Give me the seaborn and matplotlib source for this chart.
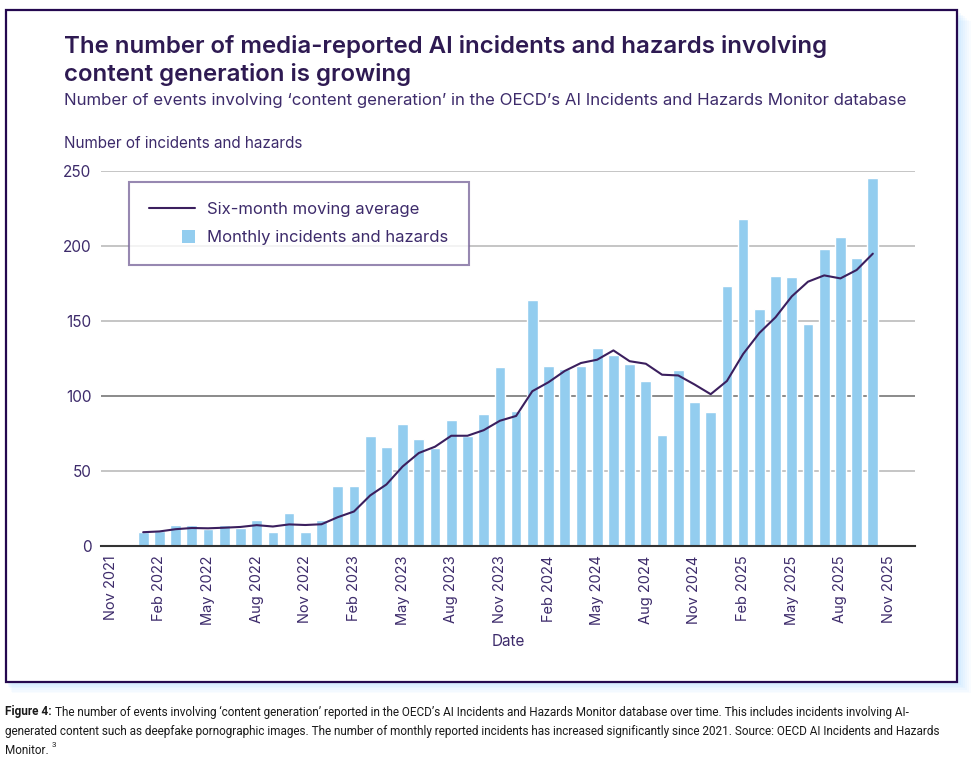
import matplotlib
matplotlib.use("Agg")
import matplotlib.pyplot as plt
import seaborn as sns
import pandas as pd
from matplotlib.patches import Rectangle
from matplotlib.lines import Line2D

# ---- data ----
months = pd.date_range("2022-01-01", "2025-10-01", freq="MS").strftime("%b %Y").tolist()
monthly = [9, 10, 14, 14, 11, 14, 12, 17, 9, 22, 9, 17,
           40, 40, 73, 66, 81, 71, 65, 84, 73, 88, 119, 90,
           164, 120, 118, 120, 132, 127, 121, 110, 74, 117, 96, 89,
           173, 218, 158, 180, 179, 148, 198, 206, 192, 245]
moving_avg = [9.0, 9.5, 11.0, 11.8, 11.6, 12.0, 12.5, 13.7, 12.8, 14.2, 13.8, 14.3,
              19.0, 22.8, 33.5, 40.8, 52.8, 61.8, 66.0, 73.3, 73.3, 77.0, 83.3, 86.5,
              103.0, 109.0, 116.5, 121.8, 124.0, 130.2, 123.0, 121.3, 114.0, 113.5, 107.5, 101.0,
              109.8, 127.8, 141.8, 152.3, 166.2, 176.0, 180.2, 178.2, 183.8, 194.7]
tick_labels = ["Nov 2021", "Feb 2022", "May 2022", "Aug 2022", "Nov 2022", "Feb 2023",
               "May 2023", "Aug 2023", "Nov 2023", "Feb 2024", "May 2024", "Aug 2024",
               "Nov 2024", "Feb 2025", "May 2025", "Aug 2025", "Nov 2025"]
tick_offsets = [-2, 1, 4, 7, 10, 13, 16, 19, 22, 25, 28, 31, 34, 37, 40, 43, 46]
y_ticks = [0, 50, 100, 150, 200, 250]

df = pd.DataFrame({"month": months, "monthly": monthly,
                   "avg": moving_avg, "pos": range(len(months))})

sns.set_theme(style="white")
FONT = ["Inter", "DejaVu Sans"]
plt.rcParams["font.family"] = FONT

W, H = 972, 770
fig = plt.figure(figsize=(W / 100, H / 100), dpi=100)
fig.patch.set_facecolor("white")

def fx(px):
    return px / W

def fy(py):
    return 1 - py / H

PURPLE = "#3D2B6B"
TITLE = "#2E1A52"
BAR = "#93CDEF"
LINE = "#3B1F5E"

# frame shadow + frame
for i, a in enumerate([0.05, 0.05, 0.06, 0.07, 0.08, 0.09]):
    off = 14 - 2 * i
    fig.patches.append(Rectangle((fx(6 + off * 0.4), fy(682 + off * 0.8)),
                                 fx(951 + off * 0.6) - 0, (682 - 10) / H,
                                 transform=fig.transFigure, facecolor="#8FD0FF",
                                 edgecolor="none", alpha=a, zorder=-3))
fig.patches.append(Rectangle((fx(6), fy(682)), fx(951), (682 - 10) / H,
                             transform=fig.transFigure, facecolor="white",
                             edgecolor="#24084F", linewidth=1.6, zorder=-2))

ax = fig.add_axes([fx(101), fy(545.7), fx(915) - fx(101), (545.7 - 170.7) / H])
ax.set_facecolor("none")

sns.barplot(data=df, x="month", y="monthly", color=BAR, saturation=1,
            width=0.66, ax=ax, zorder=2)
sns.lineplot(data=df, x="pos", y="avg", color=LINE, linewidth=1.5, ax=ax, zorder=3)

ax.set_xlim(-2.6, 47.6)
ax.set_ylim(0, 250)
ax.set_yticks(y_ticks)
ax.set_yticklabels([str(v) for v in y_ticks], color=PURPLE, fontsize=11)
ax.set_xticks(tick_offsets)
ax.set_xticklabels(tick_labels, rotation=90, color=PURPLE, fontsize=10.5)
ax.tick_params(axis="both", length=0)
ax.tick_params(axis="y", pad=7)
ax.tick_params(axis="x", pad=7)
ax.set_ylabel("")
ax.set_xlabel("Date", color=PURPLE, fontsize=11, labelpad=6)

for v in y_ticks[1:]:
    ax.axhline(v, color="#777777" if v == 100 else "#BBBBBB", linewidth=1.2, zorder=0)
for s in ["top", "right", "left"]:
    ax.spines[s].set_visible(False)
ax.spines["bottom"].set_color("#333333")
ax.spines["bottom"].set_linewidth(1.5)
ax.spines["bottom"].set_zorder(4)


class SquareHandler:
    def legend_artist(self, legend, orig_handle, fontsize, handlebox):
        x0, y0 = handlebox.xdescent, handlebox.ydescent
        w, h = handlebox.width, handlebox.height
        s = 9.0
        p = Rectangle((x0 + w - s, y0 + (h - s) / 2), s, s,
                      facecolor=BAR, edgecolor="none",
                      transform=handlebox.get_transform())
        handlebox.add_artist(p)
        return p


class SquareTag:
    pass


h_line = Line2D([], [], color=LINE, linewidth=1.5)
h_sq = SquareTag()
leg = ax.legend([h_line, h_sq], ["Six-month moving average", "Monthly incidents and hazards"],
                handler_map={SquareTag: SquareHandler()},
                loc="upper left", bbox_to_anchor=((129 - 101) / 814, (545.7 - 182) / 375),
                frameon=True, fancybox=False, fontsize=12, handlelength=2.75,
                handletextpad=0.75, borderpad=1.2, labelspacing=0.8, borderaxespad=0)
leg.get_frame().set_edgecolor("#7D6B9E")
leg.get_frame().set_linewidth(1.5)
leg.set_zorder(5)
for t in leg.get_texts():
    t.set_color(PURPLE)

# titles
fig.text(fx(64), fy(47), "The number of media-reported AI incidents and hazards involving",
         fontsize=17.3, fontweight="semibold", color=TITLE, va="center", ha="left")
fig.text(fx(64), fy(75), "content generation is growing",
         fontsize=17.3, fontweight="semibold", color=TITLE, va="center", ha="left")
fig.text(fx(64), fy(101),
         "Number of events involving \u2018content generation\u2019 in the OECD\u2019s AI Incidents and Hazards Monitor database",
         fontsize=12.1, color=PURPLE, va="center", ha="left")
fig.text(fx(64), fy(143), "Number of incidents and hazards",
         fontsize=11, color=PURPLE, va="center", ha="left")

# caption
CAP = "#1A1A1A"
cap_size = 8.45
CF = ["Roboto", "DejaVu Sans"]
fig.canvas.draw()
r = fig.canvas.get_renderer()
t_b = fig.text(fx(5), fy(712), "Figure 4:", fontsize=cap_size, fontweight="bold",
               color=CAP, va="center", ha="left", family=CF)
bb = t_b.get_window_extent(renderer=r)
fig.text((bb.x1 + 3) / W, fy(712),
         "The number of events involving \u2018content generation\u2019 reported in the OECD\u2019s AI Incidents and Hazards Monitor database over time. This includes incidents involving AI-",
         fontsize=cap_size, color=CAP, va="center", ha="left", family=CF)
fig.text(fx(5), fy(731),
         "generated content such as deepfake pornographic images. The number of monthly reported incidents has increased significantly since 2021. Source: OECD AI Incidents and Hazards",
         fontsize=cap_size, color=CAP, va="center", ha="left", family=CF)
t_m = fig.text(fx(5), fy(750), "Monitor.", fontsize=cap_size, color=CAP, va="center",
               ha="left", family=CF)
bb2 = t_m.get_window_extent(renderer=r)
fig.text((bb2.x1 + 3) / W, fy(745), "3", fontsize=5.8, color=CAP, va="center", ha="left",
         family=CF)

fig.savefig("out.png", dpi=100)
